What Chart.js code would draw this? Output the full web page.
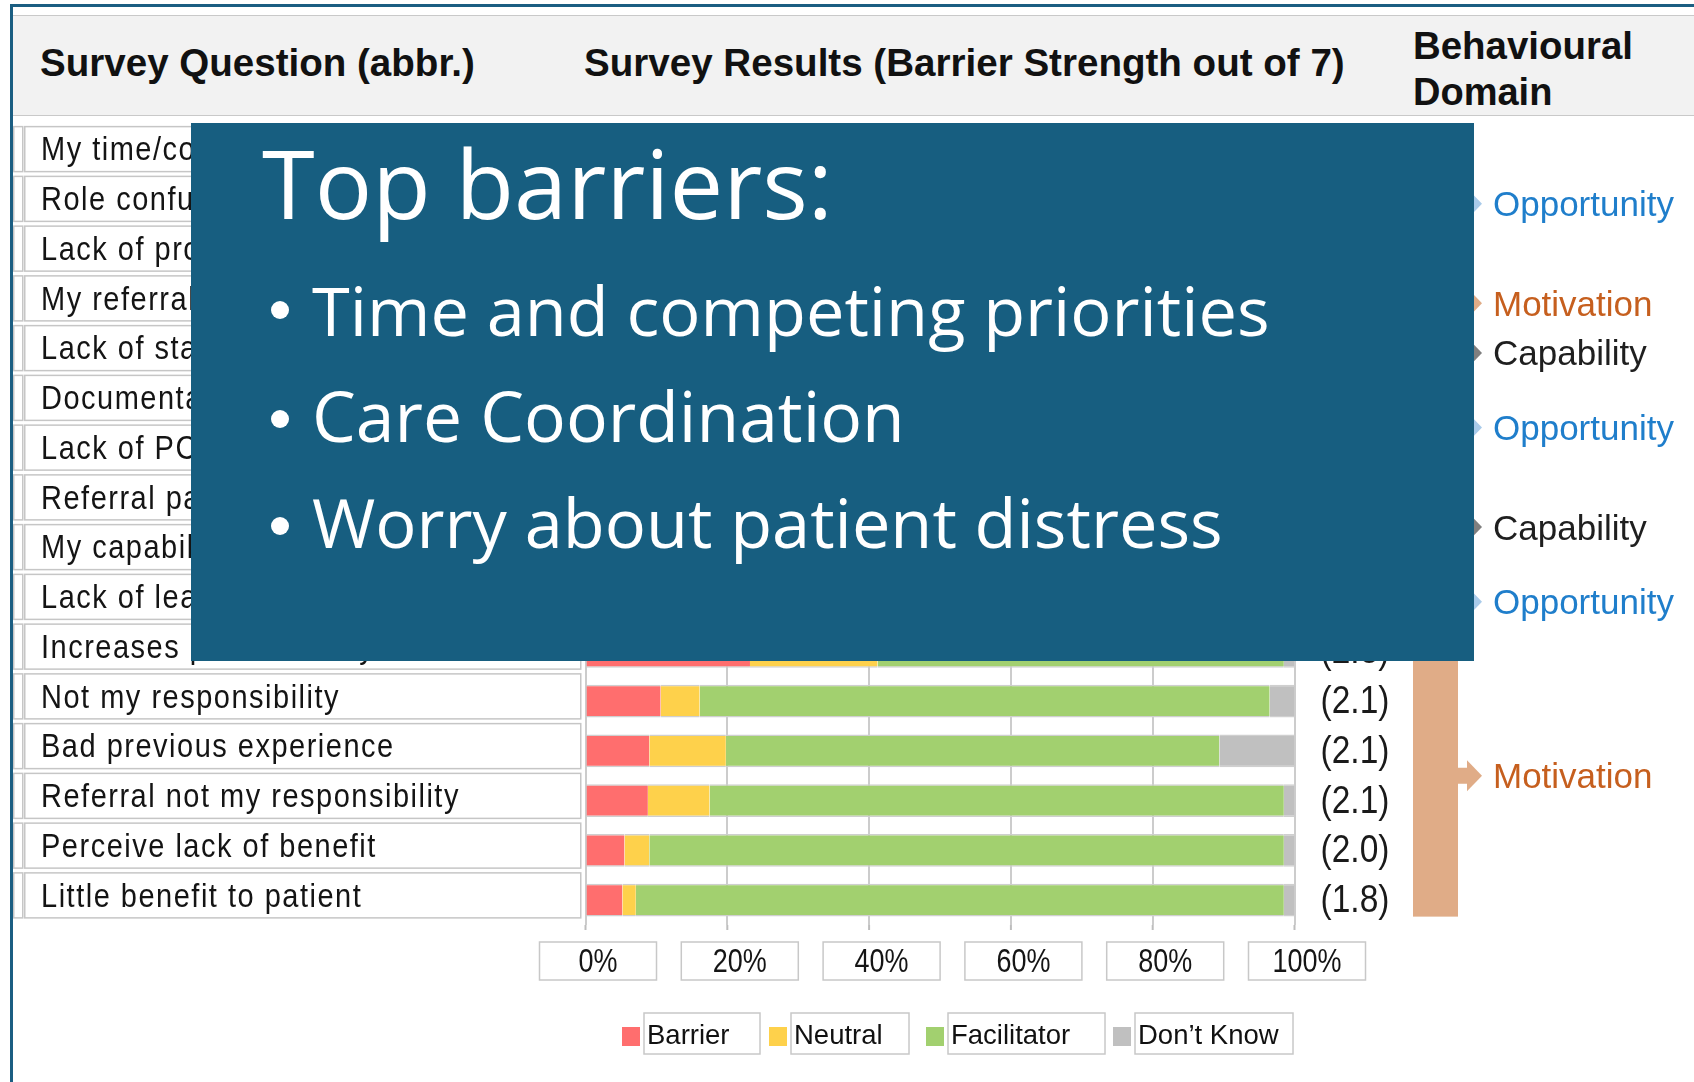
<!DOCTYPE html>
<html>
<head>
<meta charset="utf-8">
<script src="https://cdn.jsdelivr.net/npm/chart.js@4/dist/chart.umd.min.js"></script>
<style>
  html, body { margin:0; padding:0; background:#fff; }
  body { width:1694px; height:1082px; position:relative; overflow:hidden; }
  .abs { position:absolute; white-space:nowrap; }
  .hdr { font-family:"Liberation Sans", Arial, sans-serif; font-weight:bold; font-size:38px; color:#111; line-height:1; z-index:2; }
  .ot { font-family:"Open Sans", "Noto Sans", sans-serif; color:#fff; line-height:1; z-index:6; }
  .bm { display:inline-block; width:0; height:0; }
  .dot { position:absolute; width:18px; height:18px; border-radius:50%; background:#fff; z-index:6; }
</style>
</head>
<body>
<div class="abs" style="left:10px;top:4px;right:0;height:3px;background:#1b5e82;"></div>
<div class="abs" style="left:10px;top:4px;bottom:0;width:2.5px;background:#1b5e82;"></div>
<div class="abs" style="left:12.5px;top:15px;right:0;height:99px;background:#f2f2f2;border-top:1.5px solid #c9c9c9;border-bottom:1.5px solid #c9c9c9;"></div>

<div class="abs hdr" id="h1">Survey Question (abbr.)<span class="bm"></span></div>
<div class="abs hdr" id="h2">Survey Results (Barrier Strength out of 7)<span class="bm"></span></div>
<div class="abs hdr" id="h3">Behavioural<span class="bm"></span></div>
<div class="abs hdr" id="h4">Domain<span class="bm"></span></div>

<canvas id="c" width="1694" height="1082" style="position:absolute;left:0;top:0;z-index:3;"></canvas>

<div class="abs" style="left:191px;top:123px;width:1283px;height:538px;background:#175e80;z-index:5;"></div>
<div class="abs ot" id="t0" style="font-size:100px">Top barriers:<span class="bm"></span></div>
<div class="dot" style="left:271px;top:301px"></div>
<div class="dot" style="left:271px;top:409.5px"></div>
<div class="dot" style="left:271px;top:517px"></div>
<div class="abs ot" id="t1" style="font-size:67px">Time and competing priorities<span class="bm"></span></div>
<div class="abs ot" id="t2" style="font-size:67px">Care Coordination<span class="bm"></span></div>
<div class="abs ot" id="t3" style="font-size:67px">Worry about patient distress<span class="bm"></span></div>

<script>
// ---------------- DATA ----------------
const categories = [
  'My time/competing priorities',
  'Role confusion',
  'Lack of process',
  'My referral may distress patient',
  'Lack of staff knowledge',
  'Documentation burden',
  'Lack of PCP coordination',
  'Referral pathway unclear',
  'My capability to discuss',
  'Lack of leadership support',
  'Increases patient worry',
  'Not my responsibility',
  'Bad previous experience',
  'Referral not my responsibility',
  'Perceive lack of benefit',
  'Little benefit to patient'
];
const seriesNames = ['Barrier', 'Neutral', 'Facilitator', 'Don\u2019t Know'];
const barrierPct     = [62, 45, 42, 40, 36, 34, 32, 30, 28, 26, 23.2, 10.6, 9.0, 8.8, 5.5, 5.2];
const neutralPct     = [14, 18, 20, 22, 20, 22, 20, 18, 18, 20, 18.0, 5.5, 10.8, 8.7, 3.5, 1.9];
const facilitatorPct = [22, 33, 34, 36, 40, 40, 42, 48, 52, 50, 57.3, 80.4, 69.6, 81.0, 89.5, 91.4];
const dontKnowPct    = [2, 4, 4, 2, 4, 4, 6, 4, 2, 4, 1.5, 3.5, 10.6, 1.5, 1.5, 1.5];
const strength       = [4.6, 3.8, 3.7, 3.6, 3.4, 3.3, 3.2, 3.0, 2.9, 2.8, 2.3, 2.1, 2.1, 2.1, 2.0, 1.8];
const xTicks = [0, 20, 40, 60, 80, 100];
const domainNames    = ['Opportunity', 'Motivation', 'Capability', 'Opportunity', 'Capability', 'Opportunity', 'Motivation'];
const domainFirstRow = [0, 3, 4, 5, 7, 9, 10];
const domainLastRow  = [2, 3, 4, 6, 8, 9, 15];

// ---------------- STYLE ----------------
const seriesColors = ['#ff6e6e', '#fed14b', '#a2d06f', '#c0c0c0'];
const domainText = { Opportunity:'#1f7ecb', Motivation:'#c65f1e', Capability:'#1f1f1f' };
const domainFill = { Opportunity:'#a9cbea', Motivation:'#e0ac87', Capability:'#7f7f7f' };
const FONT = '"Liberation Sans", Arial, sans-serif';

function drawText(ctx, s, x, y, size, o) {
  o = o || {};
  ctx.save();
  ctx.translate(x, y);
  ctx.scale(1, o.sy || 1);
  ctx.font = (o.weight ? o.weight + ' ' : '') + size + 'px ' + FONT;
  ctx.fillStyle = o.color || '#111';
  ctx.textBaseline = 'alphabetic';
  ctx.textAlign = o.align || 'left';
  if (o.ls) {
    ctx.textAlign = 'left';
    let cx = 0;
    for (const ch of s) { ctx.fillText(ch, cx, 0); cx += ctx.measureText(ch).width + o.ls; }
  } else {
    ctx.fillText(s, 0, 0);
  }
  ctx.restore();
}

const decor = {
  id: 'decor',
  afterDraw(chart) {
    const ctx = chart.ctx, xs = chart.scales.x, ys = chart.scales.y;
    // row label cells + value labels
    categories.forEach((lab, i) => {
      const cy = ys.getPixelForValue(i);
      const top = cy - 5 - 23;
      ctx.save();
      ctx.fillStyle = '#fff';
      ctx.fillRect(24, top, 557, 46);
      ctx.strokeStyle = '#c6c6c6'; ctx.lineWidth = 1.5;
      ctx.strokeRect(24.75, top + 0.75, 556, 45);
      ctx.strokeRect(13.75, top + 0.75, 9, 45);
      ctx.restore();
      drawText(ctx, lab, 41, cy + 6.5, 29, { sy: 1.12, ls: 1.5, color: '#141414' });
      drawText(ctx, '(' + strength[i].toFixed(1) + ')', 1355, cy + 12, 33.5, { sy: 1.18, align: 'center', color: '#1a1a1a' });
    });
    // tick marks and boxed tick labels
    xTicks.forEach(v => {
      const px = xs.getPixelForValue(v);
      ctx.save();
      ctx.strokeStyle = '#bdbdbd'; ctx.lineWidth = 2;
      ctx.beginPath(); ctx.moveTo(px, chart.chartArea.bottom); ctx.lineTo(px, chart.chartArea.bottom + 5); ctx.stroke();
      const cx = px + 12.5;
      ctx.fillStyle = '#fff'; ctx.fillRect(cx - 58.5, 942, 117, 38);
      ctx.strokeStyle = '#c8c8c8'; ctx.lineWidth = 1.5; ctx.strokeRect(cx - 58.5, 942, 117, 38);
      ctx.restore();
      drawText(ctx, v + '%', cx, 972, 27, { sy: 1.22, align: 'center', color: '#151515' });
    });
    // legend
    const itemX = [622, 769, 926, 1113], boxW = [116, 118, 157, 158];
    chart.data.datasets.forEach((ds, i) => {
      const x0 = itemX[i];
      ctx.save();
      ctx.fillStyle = ds.backgroundColor; ctx.fillRect(x0, 1027, 18, 19);
      ctx.fillStyle = '#fff'; ctx.fillRect(x0 + 22, 1013, boxW[i], 41);
      ctx.strokeStyle = '#c8c8c8'; ctx.lineWidth = 1.5; ctx.strokeRect(x0 + 22, 1013, boxW[i], 41);
      ctx.restore();
      drawText(ctx, ds.label, x0 + 25, 1044, 27.5, { color: '#111' });
    });
    // behavioural domain brackets
    domainNames.forEach((name, g) => {
      const a = ys.getPixelForValue(domainFirstRow[g]), b = ys.getPixelForValue(domainLastRow[g]);
      const cy = (a + b) / 2;
      ctx.save();
      ctx.fillStyle = domainFill[name];
      ctx.fillRect(1413, a - 16.5, 45, (b - a) + 33);
      ctx.fillRect(1457, cy - 8, 11, 16);
      ctx.beginPath(); ctx.moveTo(1467, cy - 15.5); ctx.lineTo(1482, cy); ctx.lineTo(1467, cy + 15.5); ctx.closePath(); ctx.fill();
      ctx.restore();
      drawText(ctx, name, 1493, cy + 12.5, 35, { color: domainText[name] });
    });
  }
};

new Chart(document.getElementById('c'), {
  type: 'bar',
  data: {
    labels: categories,
    datasets: [barrierPct, neutralPct, facilitatorPct, dontKnowPct].map((d, i) => ({
      label: seriesNames[i], data: d, backgroundColor: seriesColors[i]
    }))
  },
  options: {
    indexAxis: 'y',
    responsive: false,
    maintainAspectRatio: false,
    animation: false,
    devicePixelRatio: 1,
    layout: { padding: { left: 585.5, right: 399.5, top: 129, bottom: 157 } },
    plugins: { legend: { display: false }, tooltip: { enabled: false } },
    datasets: { bar: { barPercentage: 0.66, categoryPercentage: 1, borderColor: '#cfcfcf',
      borderWidth: { top: 1.5, bottom: 1.5, left: 0, right: 0 }, borderSkipped: false } },
    scales: {
      x: { stacked: true, min: 0, max: 100, z: 1,
           ticks: { display: false, stepSize: 20 },
           grid: { color: 'rgba(110,110,110,0.35)', lineWidth: 2, drawTicks: false },
           border: { display: false } },
      y: { stacked: true, display: false }
    }
  },
  plugins: [decor]
});

// ---------- HTML text placement (fit width + baseline) ----------
function place(id, x, baseline, width) {
  const el = document.getElementById(id);
  el.style.left = x + 'px'; el.style.top = '0px';
  if (width) {
    const w = el.getBoundingClientRect().width;
    const fs = parseFloat(getComputedStyle(el).fontSize);
    el.style.fontSize = (fs * width / w) + 'px';
  }
  const off = el.querySelector('.bm').getBoundingClientRect().top - el.getBoundingClientRect().top;
  el.style.top = (baseline - off) + 'px';
}
place('h1', 40, 76, 435);
place('h2', 584, 76, 761);
place('h3', 1413, 59, 220);
place('h4', 1413, 105);
place('t0', 262, 218.5, 571);
place('t1', 312, 336, 958);
place('t2', 312, 442, 593);
place('t3', 312, 548, 911);
</script>
</body>
</html>
